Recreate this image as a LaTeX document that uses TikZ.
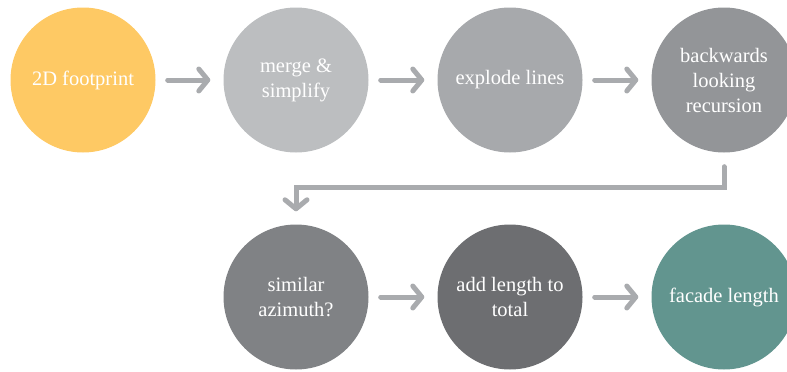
\documentclass[tikz,border=0pt]{standalone}
\usepackage{fontspec}
\setmainfont{Liberation Serif}
\usetikzlibrary{arrows.meta}
\definecolor{footprintcol}{HTML}{FEC964}
\definecolor{mergecol}{HTML}{BCBEC0}
\definecolor{explodecol}{HTML}{A7A9AC}
\definecolor{recursioncol}{HTML}{939598}
\definecolor{azimuthcol}{HTML}{808285}
\definecolor{totalcol}{HTML}{6D6E71}
\definecolor{facadecol}{HTML}{62958F}
\definecolor{arrowcol}{HTML}{A9ABAE}
\begin{document}
\begin{tikzpicture}[x=1pt, y=-1pt, every node/.style = {shape=circle, minimum size=145pt, inner sep=0pt, align=center, text=white, font=\fontsize{20.5}{25}\selectfont},
  flow/.style = {draw=arrowcol, line width=5pt, line cap=round, -{Straight Barb[length=9pt, width=22pt, line cap=round, line join=round]}, shorten <=12pt, shorten >=13pt}]
\useasboundingbox (0,0) rectangle (787,372);
\clip (0,0) rectangle (787,372);

% Top row
\node[fill=footprintcol] (footprint) at (83,80) {2D footprint};
\node[fill=mergecol] (merge) at (296,80) {merge \&\\simplify};
\node[fill=explodecol] (explode) at (510,80) {explode lines};
\node[fill=recursioncol] (recursion) at (724,80) {backwards\\looking\\recursion};

% Bottom row
\node[fill=azimuthcol] (azimuth) at (296,297) {similar\\azimuth?};
\node[fill=totalcol] (total) at (510,297) {add length to\\total};
\node[fill=facadecol] (facade) at (724,297) {facade length};

% Arrows
\draw[flow] (footprint) -- (merge);
\draw[flow] (merge) -- (explode);
\draw[flow] (explode) -- (recursion);
\draw[flow, shorten <=14pt] (recursion.south) -- ++(0,35) -| (azimuth.north);
\draw[flow] (azimuth) -- (total);
\draw[flow] (total) -- (facade);
\end{tikzpicture}
\end{document}
